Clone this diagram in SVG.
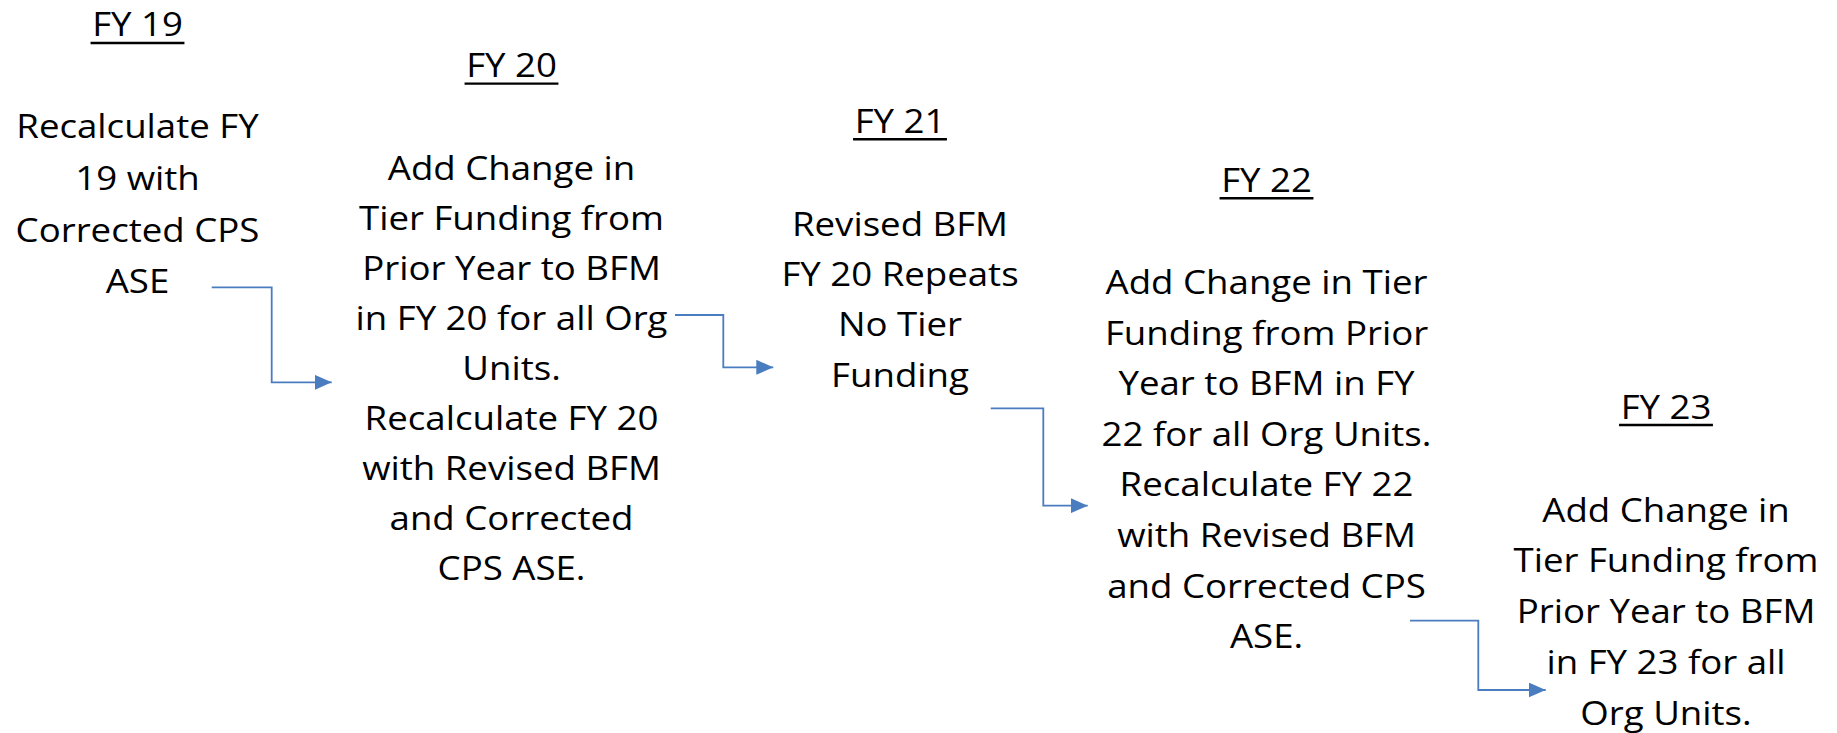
<svg xmlns="http://www.w3.org/2000/svg" width="1837" height="733" viewBox="0 0 1837 733">
  <style>
    text { font-family: "Open Sans", "Noto Sans", "Liberation Sans", sans-serif; font-size: 32px; fill: #000; text-anchor: middle; }
    .ul { stroke: #000; stroke-width: 2.4; }
    .conn { fill: none; stroke: #4a7cc0; stroke-width: 1.8; marker-end: url(#arrow); }
  </style>
  <defs>
    <marker id="arrow" markerUnits="userSpaceOnUse" markerWidth="17" markerHeight="15" refX="17" refY="7.5" orient="auto">
      <path d="M0,0 L17,7.5 L0,15 z" fill="#4a7cc0"/>
    </marker>
  </defs>
  <rect width="1837" height="733" fill="#fff"/>

  <g id="fy19" transform="translate(137.5,0) scale(1.145,1)">
    <text x="0" y="36">FY 19</text>
    <line class="ul" x1="-41" y1="43" x2="41" y2="43"/>
    <text x="0" y="138.3">Recalculate FY</text>
    <text x="0" y="190">19 with</text>
    <text x="0" y="241.7">Corrected CPS</text>
    <text x="0" y="292.7">ASE</text>
  </g>

  <g id="fy20" transform="translate(511.5,0) scale(1.145,1)">
    <text x="0" y="77.5">FY 20</text>
    <line class="ul" x1="-41" y1="83.6" x2="41" y2="83.6"/>
    <text x="0" y="180.5">Add Change in</text>
    <text x="0" y="230.4">Tier Funding from</text>
    <text x="0" y="280.3">Prior Year to BFM</text>
    <text x="0" y="330.2">in FY 20 for all Org</text>
    <text x="0" y="380.1">Units.</text>
    <text x="0" y="430">Recalculate FY 20</text>
    <text x="0" y="479.9">with Revised BFM</text>
    <text x="0" y="529.8">and Corrected</text>
    <text x="0" y="579.7">CPS ASE.</text>
  </g>

  <g id="fy21" transform="translate(900,0) scale(1.145,1)">
    <text x="0" y="132.7">FY 21</text>
    <line class="ul" x1="-41" y1="139.3" x2="41" y2="139.3"/>
    <text x="0" y="235.7">Revised BFM</text>
    <text x="0" y="286.1">FY 20 Repeats</text>
    <text x="0" y="336.5">No Tier</text>
    <text x="0" y="386.9">Funding</text>
  </g>

  <g id="fy22" transform="translate(1266.5,0) scale(1.145,1)">
    <text x="0" y="191.7">FY 22</text>
    <line class="ul" x1="-41" y1="198.3" x2="41" y2="198.3"/>
    <text x="0" y="294.5">Add Change in Tier</text>
    <text x="0" y="345">Funding from Prior</text>
    <text x="0" y="395.5">Year to BFM in FY</text>
    <text x="0" y="446">22 for all Org Units.</text>
    <text x="0" y="496.5">Recalculate FY 22</text>
    <text x="0" y="547">with Revised BFM</text>
    <text x="0" y="597.5">and Corrected CPS</text>
    <text x="0" y="648">ASE.</text>
  </g>

  <g id="fy23" transform="translate(1666,0) scale(1.145,1)">
    <text x="0" y="419.3">FY 23</text>
    <line class="ul" x1="-41" y1="425" x2="41" y2="425"/>
    <text x="0" y="521.7">Add Change in</text>
    <text x="0" y="572.5">Tier Funding from</text>
    <text x="0" y="623.3">Prior Year to BFM</text>
    <text x="0" y="674.1">in FY 23 for all</text>
    <text x="0" y="724.9">Org Units.</text>
  </g>

  <g id="connectors">
    <path class="conn" d="M211.7,287.3 H271.7 V382.3 H331.7"/>
    <path class="conn" d="M675,315 H723.3 V367.3 H773.3"/>
    <path class="conn" d="M990.7,408.3 H1043.3 V505.7 H1087.7"/>
    <path class="conn" d="M1410,620.7 H1478.3 V690 H1545.7"/>
  </g>
</svg>
